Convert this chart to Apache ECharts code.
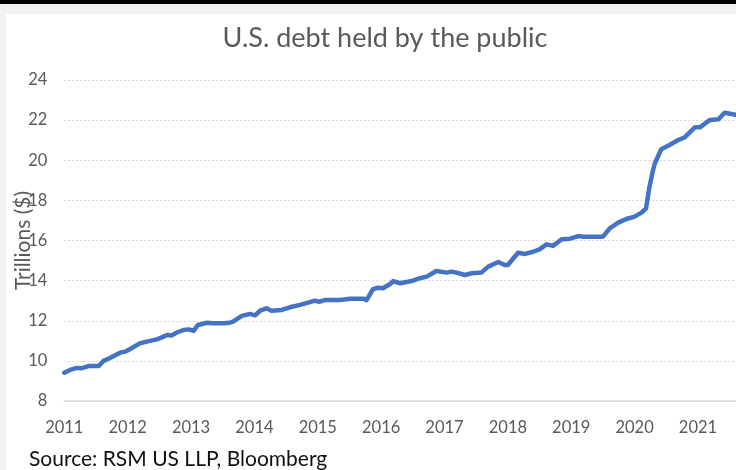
<!DOCTYPE html>
<html>
<head>
<meta charset="utf-8">
<script src="https://cdn.jsdelivr.net/npm/echarts@6/dist/echarts.min.js"></script>
<style>
html,body{margin:0;padding:0;background:#fff;}
#chart{width:736px;height:470px;}
</style>
</head>
<body>
<div id="chart"></div>
<script>
// Time (decimal years)
const dates = [
  2011.00, 2011.09, 2011.20, 2011.27, 2011.38, 2011.54, 2011.62, 2011.72, 2011.88, 2011.96,
  2012.06, 2012.19, 2012.30, 2012.46, 2012.54, 2012.62, 2012.69, 2012.77, 2012.88, 2012.96,
  2013.04, 2013.11, 2013.25, 2013.35, 2013.51, 2013.61, 2013.67, 2013.80, 2013.93,
  2014.01, 2014.09, 2014.19, 2014.27, 2014.43, 2014.56, 2014.72, 2014.85, 2014.95,
  2015.03, 2015.11, 2015.35, 2015.51, 2015.72, 2015.77, 2015.87, 2015.95,
  2016.03, 2016.14, 2016.19, 2016.30, 2016.48, 2016.61, 2016.72, 2016.87,
  2017.03, 2017.11, 2017.19, 2017.32, 2017.43, 2017.58, 2017.69, 2017.85, 2017.95,
  2018.00, 2018.16, 2018.27, 2018.40, 2018.50, 2018.61, 2018.71, 2018.85, 2018.98,
  2019.11, 2019.19, 2019.50, 2019.61, 2019.74, 2019.87, 2020.00, 2020.11, 2020.18,
  2020.23, 2020.29, 2020.32, 2020.42, 2020.55, 2020.69, 2020.79, 2020.95,
  2021.03, 2021.19, 2021.32, 2021.42, 2021.60
];
// Debt held by the public, trillions of dollars
const debt = [
  9.41, 9.55, 9.65, 9.63, 9.74, 9.74, 10.00, 10.14, 10.41, 10.46,
  10.63, 10.87, 10.96, 11.07, 11.17, 11.29, 11.27, 11.40, 11.54, 11.57,
  11.50, 11.79, 11.90, 11.87, 11.87, 11.90, 11.97, 12.24, 12.34,
  12.27, 12.50, 12.62, 12.50, 12.54, 12.67, 12.79, 12.90, 13.00,
  12.95, 13.03, 13.03, 13.10, 13.10, 13.03, 13.57, 13.65,
  13.62, 13.83, 13.98, 13.87, 13.98, 14.12, 14.20, 14.48,
  14.40, 14.45, 14.40, 14.28, 14.37, 14.40, 14.70, 14.93, 14.78,
  14.78, 15.39, 15.33, 15.44, 15.56, 15.81, 15.73, 16.06, 16.09,
  16.22, 16.19, 16.19, 16.61, 16.89, 17.07, 17.19, 17.39, 17.60,
  18.60, 19.50, 19.85, 20.55, 20.76, 21.01, 21.14, 21.64,
  21.64, 22.01, 22.04, 22.37, 22.26
];
const titleText = 'U.S. debt held by the public';
const yAxisName = 'Trillions ($)';
const sourceText = 'Source: RSM US LLP, Bloomberg';
const xMin = 2011, xMax = 2021.6, yMin = 8, yMax = 24;

const chart = echarts.init(document.getElementById('chart'), null, {renderer: 'canvas'});
const FONT = 'Lato';
chart.setOption({
  animation: false,
  backgroundColor: '#ffffff',
  title: {
    text: titleText,
    left: 380,
    textAlign: 'center',
    top: 20,
    textStyle: {fontFamily: FONT, fontSize: 27, fontWeight: 'normal', color: '#595959'}
  },
  graphic: [
    {type: 'rect', left: 0, top: 0, shape: {width: 736, height: 14}, style: {fill: '#f2f2f2'}, z: 0},
    {type: 'rect', left: 0, top: 0, shape: {width: 6, height: 470}, style: {fill: '#f2f2f2'}, z: 0},
    {type: 'rect', left: 0, top: 0, shape: {width: 736, height: 4}, style: {fill: '#000000'}, z: 0},
    {type: 'text', left: 29, top: 449,
     style: {text: sourceText, fontFamily: FONT, fontSize: 21, fill: '#111111'}}
  ],
  grid: {left: 64.3, right: 0, top: 80, bottom: 69, containLabel: false, outerBoundsMode: 'none'},
  xAxis: {
    type: 'value',
    min: xMin, max: xMax, interval: 1,
    axisLine: {show: true, lineStyle: {color: '#d9d9d9', width: 1.5}},
    axisTick: {show: false},
    splitLine: {show: false},
    axisLabel: {
      showMaxLabel: false,
      margin: 18,
      fontFamily: FONT, fontSize: 16.5, color: '#595959',
      formatter: function (v) { return Number.isInteger(v) ? String(v) : ''; }
    }
  },
  yAxis: {
    type: 'value',
    min: yMin, max: yMax, interval: 2,
    name: yAxisName,
    nameLocation: 'middle',
    nameGap: 31,
    nameRotate: 90,
    nameMoveOverlap: false,
    nameTextStyle: {fontFamily: FONT, fontSize: 21, color: '#595959'},
    axisLine: {show: false},
    axisTick: {show: false},
    splitLine: {show: true, lineStyle: {color: '#d9d9d9', type: [2, 2], width: 1}},
    axisLabel: {margin: 17, fontFamily: FONT, fontSize: 16.5, color: '#595959'}
  },
  series: [{
    type: 'line',
    data: dates.map((d, i) => [d, debt[i]]),
    showSymbol: false,
    smooth: false,
    lineStyle: {color: '#4472C4', width: 4.5, join: 'round', cap: 'round'},
    clip: true
  }]
});
</script>
</body>
</html>
